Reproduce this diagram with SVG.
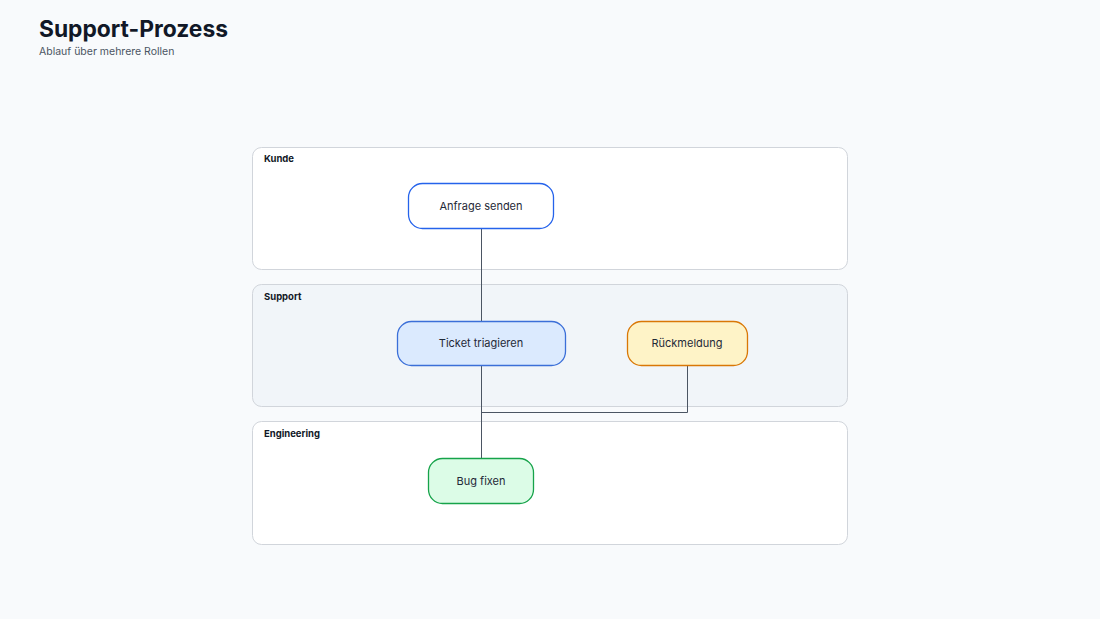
<svg xmlns="http://www.w3.org/2000/svg" width="1100" height="619" viewBox="0 0 1100 619">
<style>
text{font-family:Inter,"Noto Sans",sans-serif}
.lane{stroke:#d1d5db;stroke-width:1}
.lt{font-size:9.5px;font-weight:700;fill:#111827}
.n{stroke-width:1.3}
.nt{font-size:11px;fill:#1f2937;text-anchor:middle}
.c{fill:none;stroke:#4b5563;stroke-width:1}
</style>
<rect width="1100" height="619" fill="#f8fafc"/>
<text x="39" y="37" font-size="22.8" font-weight="700" fill="#111827">Support-Prozess</text>
<text x="39" y="55" font-size="10.5" fill="#4b5563">Ablauf über mehrere Rollen</text>
<g id="lane-kunde"><rect class="lane" x="252.5" y="147.5" width="595" height="122" rx="9" fill="#ffffff"/><text class="lt" x="264" y="162">Kunde</text></g>
<g id="lane-support"><rect class="lane" x="252.5" y="284.5" width="595" height="122" rx="9" fill="#f1f5f9"/><text class="lt" x="264" y="300">Support</text></g>
<g id="lane-engineering"><rect class="lane" x="252.5" y="421.5" width="595" height="123" rx="9" fill="#ffffff"/><text class="lt" x="264" y="437">Engineering</text></g>
<g id="connectors">
<path class="c" d="M481.5 229V321"/>
<path class="c" d="M481.5 366V458"/>
<path class="c" d="M481.5 366V412.5H687.5V366"/>
</g>
<g id="n-anfrage"><rect class="n" x="408.5" y="183.5" width="145" height="45" rx="14" fill="#ffffff" stroke="#2563eb"/><text class="nt" x="481" y="210">Anfrage senden</text></g>
<g id="n-ticket"><rect class="n" x="397.5" y="321.5" width="168" height="44" rx="14" fill="#dbeafe" stroke="#3b6fd8"/><text class="nt" x="481" y="347">Ticket triagieren</text></g>
<g id="n-rueck"><rect class="n" x="627.5" y="321.5" width="120" height="44" rx="14" fill="#fef3c7" stroke="#d97706"/><text class="nt" x="687" y="347">Rückmeldung</text></g>
<g id="n-bug"><rect class="n" x="428.5" y="458.5" width="105" height="45" rx="14" fill="#dcfce7" stroke="#16a34a"/><text class="nt" x="481" y="485">Bug fixen</text></g>
</svg>
